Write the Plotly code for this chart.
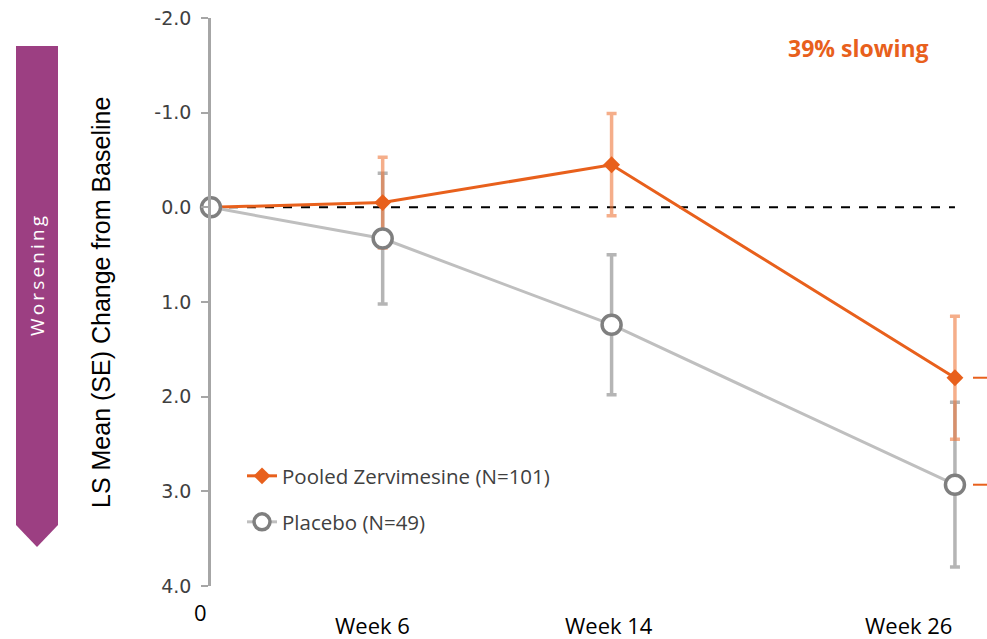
import plotly.graph_objects as go

# ---- data ----
weeks = [0, 6, 14, 26]
week_labels = ["0", "Week 6", "Week 14", "Week 26"]
zerv_mean = [0.0, -0.05, -0.45, 1.80]
zerv_se = [0.0, 0.48, 0.54, 0.65]
placebo_mean = [0.0, 0.33, 1.24, 2.93]
placebo_se = [0.0, 0.69, 0.74, 0.87]
y_ticks = [-2, -1, 0, 1, 2, 3, 4]
y_tick_text = [f"{v:.1f}" for v in y_ticks]
zerv_name = "Pooled Zervimesine (N=101)"
placebo_name = "Placebo (N=49)"
slowing_text = "39% slowing"
side_label = "Worsening"

# ---- style ----
W, H = 987, 639
L, R, T, B = 211, 0, 18, 53
PW, PH = W - L - R, H - T - B
X_MAX = 27.12
ORANGE = "#E8601C"
ORANGE_ERR = "rgba(238,120,60,0.6)"
GREY_LINE = "#BFBFBF"
GREY_MK = "#7F7F7F"
GREY_ERR = "rgba(150,150,150,0.7)"
PURPLE = "#9C3F82"
TXT = "#404040"
FONT_TICK = "DejaVu Sans, sans-serif"
FONT_TITLE = "Liberation Sans, Arial, sans-serif"
FONT_B = "Open Sans, Roboto, sans-serif"


def fx(px):
    return (px - L) / PW


def fy(py):
    return (H - B - py) / PH


fig = go.Figure()

# error bars (drawn first, placebo then zervimesine)
fig.add_trace(go.Scatter(
    x=weeks[1:], y=placebo_mean[1:], mode="markers",
    marker=dict(size=1, color="rgba(0,0,0,0)"),
    error_y=dict(type="data", array=placebo_se[1:], color=GREY_ERR, thickness=3.5, width=5),
    showlegend=False, hoverinfo="skip"))
fig.add_trace(go.Scatter(
    x=weeks[1:], y=zerv_mean[1:], mode="markers",
    marker=dict(size=1, color="rgba(0,0,0,0)"),
    error_y=dict(type="data", array=zerv_se[1:], color=ORANGE_ERR, thickness=3.5, width=5),
    showlegend=False, hoverinfo="skip"))

# zervimesine line
fig.add_trace(go.Scatter(
    x=weeks, y=zerv_mean, mode="lines+markers", name=zerv_name,
    line=dict(color=ORANGE, width=3),
    marker=dict(symbol="diamond", size=13, color=ORANGE),
    legend="legend", cliponaxis=False))
# placebo line
fig.add_trace(go.Scatter(
    x=weeks, y=placebo_mean, mode="lines+markers", name=placebo_name,
    line=dict(color=GREY_LINE, width=3),
    marker=dict(symbol="circle", size=19, color="white", line=dict(color=GREY_MK, width=3.5)),
    legend="legend2", cliponaxis=False))

shapes = []
# dashed zero reference line
shapes.append(dict(type="line", xref="x", yref="y", x0=weeks[0], x1=weeks[-1], y0=0, y1=0,
                   line=dict(color="black", width=2, dash="dash"), layer="below"))
# right-hand bracket stubs at final values
x_stub0 = (973 - L) / PW * X_MAX
for v in (zerv_mean[-1], placebo_mean[-1]):
    shapes.append(dict(type="line", xref="x", yref="y", x0=x_stub0, x1=X_MAX, y0=v, y1=v,
                       line=dict(color=ORANGE, width=2)))
# purple "Worsening" arrow
path = (f"M {fx(16)},{fy(46)} L {fx(58)},{fy(46)} L {fx(58)},{fy(525)} "
        f"L {fx(37)},{fy(547)} L {fx(16)},{fy(525)} Z")
shapes.append(dict(type="path", xref="paper", yref="paper", path=path,
                   fillcolor=PURPLE, line=dict(width=0)))

annotations = []
spaced = "\u2009".join(side_label)
annotations.append(dict(text=spaced, xref="paper", yref="paper", x=fx(37), y=fy(276),
                        xanchor="center", yanchor="middle",
                        textangle=-90, showarrow=False, font=dict(family=FONT_B, size=19, color="white")))
annotations.append(dict(text="LS Mean (SE) Change from Baseline", xref="paper", yref="paper",
                        x=fx(101), y=fy(303), xanchor="center", yanchor="middle",
                        textangle=-90, showarrow=False,
                        font=dict(family=FONT_TITLE, size=25, color="black")))
annotations.append(dict(text="<b>" + slowing_text + "</b>", xref="paper", yref="paper",
                        x=fx(858), y=fy(48), xanchor="center", yanchor="middle", showarrow=False,
                        font=dict(family=FONT_B, size=23, color=ORANGE)))
# x labels
x_shift = [-11, -10, -3, -46]
x_label_y = [612, 625, 625, 625]
for wk, lab, sh, ly in zip(weeks, week_labels, x_shift, x_label_y):
    annotations.append(dict(text=lab, xref="x", yref="paper", x=wk, y=fy(ly), xshift=sh,
                            xanchor="center", showarrow=False, yanchor="middle",
                            font=dict(family=FONT_B, size=22, color="black")))

fig.update_layout(
    width=W, height=H,
    margin=dict(l=L, r=R, t=T, b=B),
    paper_bgcolor="white", plot_bgcolor="white",
    shapes=shapes, annotations=annotations,
    legend=dict(x=fx(242), y=fy(476), xanchor="left", yanchor="middle",
                font=dict(family=FONT_B, size=20.5, color=TXT), bgcolor="rgba(0,0,0,0)"),
    legend2=dict(x=fx(242), y=fy(522), xanchor="left", yanchor="middle",
                 font=dict(family=FONT_B, size=20.5, color=TXT), bgcolor="rgba(0,0,0,0)"),
    xaxis=dict(range=[0, X_MAX], showline=False, showgrid=False, zeroline=False,
               showticklabels=False, ticks=""),
    yaxis=dict(range=[4, -2], tickvals=y_ticks, ticktext=y_tick_text,
               showline=True, linecolor="#A6A6A6", linewidth=2.5,
               ticks="outside", ticklen=7, tickwidth=2, tickcolor="#A6A6A6",
               showgrid=False, zeroline=False, ticklabelstandoff=6,
               tickfont=dict(family=FONT_TICK, size=19, color=TXT)),
)

fig.write_html("out.html", config={"displayModeBar": False},
               post_script="document.body.style.margin='0px';document.body.style.overflow='hidden';")
